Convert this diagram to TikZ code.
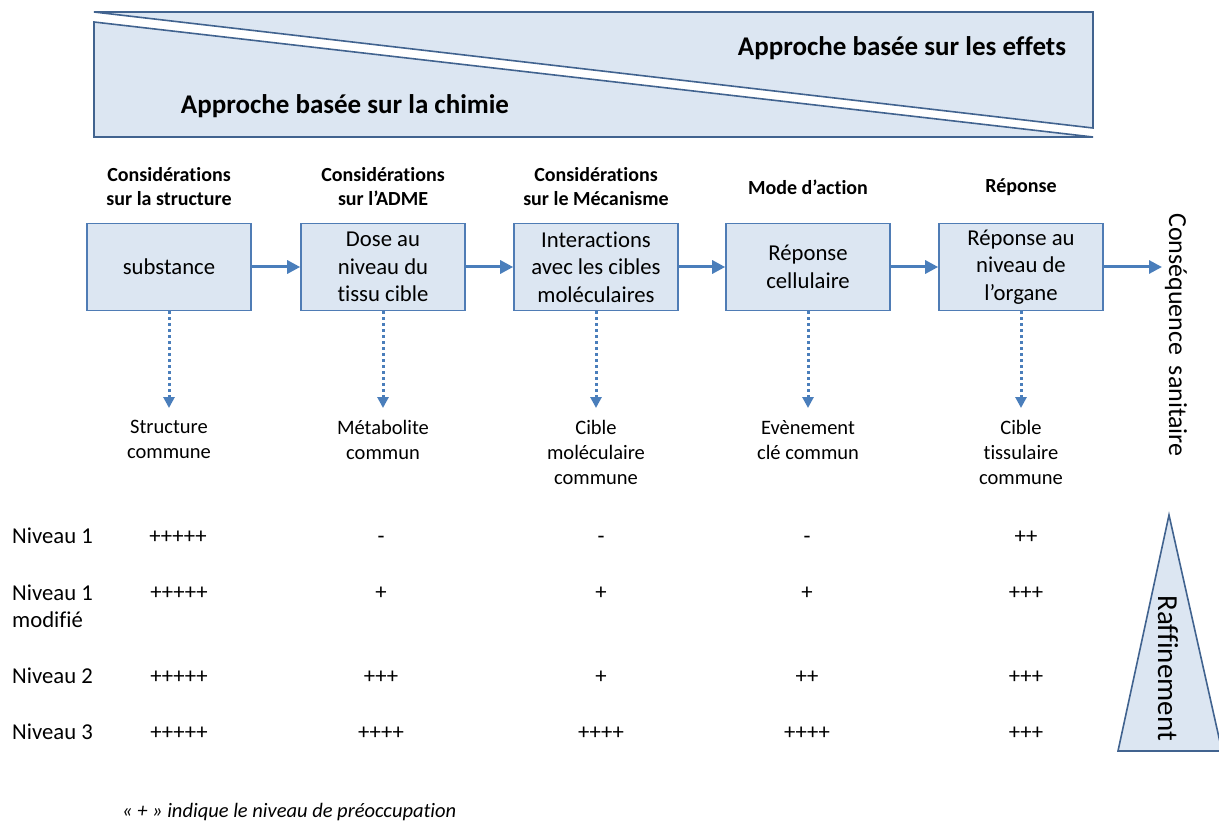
\documentclass[tikz,border=0pt]{standalone}
\usepackage{fontspec}
\setmainfont{Carlito}[Ligatures={NoCommon,NoRare}]
\usetikzlibrary{arrows.meta}
\definecolor{panelfill}{HTML}{DCE6F2}
\definecolor{paneledge}{HTML}{41638F}
\definecolor{boxedge}{HTML}{4F7CB5}
\definecolor{flowblue}{HTML}{4A7EBB}
\begin{document}
\begin{tikzpicture}[x=1pt,y=-1pt,
  panel/.style={draw=paneledge, fill=panelfill, line width=1.6pt, line join=miter},
  stepbox/.style={draw=boxedge, fill=panelfill, line width=1.6pt,
    minimum width=164pt, minimum height=87pt, align=center, inner sep=0pt,
    font=\fontsize{22.7}{27.5}\selectfont},
  flow/.style={draw=flowblue, line width=3pt, -{Triangle[length=13pt,width=13pt]}},
  dotflow/.style={draw=flowblue, line width=3pt, dash pattern=on 3pt off 3pt,
    -{Triangle[length=11pt,width=11pt]}},
  head/.style={align=center, inner sep=0pt, font=\bfseries\fontsize{20}{24}\selectfont},
  title/.style={anchor=base, inner sep=0pt, font=\bfseries\fontsize{27}{32}\selectfont},
  target/.style={align=center, inner sep=0pt, anchor=north, font=\fontsize{20.5}{25}\selectfont},
  cell/.style={anchor=base, inner sep=0pt, font=\fontsize{22.7}{28}\selectfont},
  rowlab/.style={inner sep=0pt, align=left, font=\fontsize{22.7}{27}\selectfont},
]
\useasboundingbox (0,0) rectangle (1219,821);

% banner: two opposing triangles
\draw[panel] (94,12) -- (1093,12) -- (1093,128) -- cycle;
\draw[panel] (94,22) -- (94,137) -- (1093,137) -- cycle;
\node[title] (effets) at (902,56) {Approche basée sur les effets};
\node[title] (chimie) at (345,114) {Approche basée sur la chimie};

% column headings
\node[head] (h1) at (169,187) {Considérations\\sur la structure};
\node[head] (h2) at (383,187) {Considérations\\sur l’ADME};
\node[head] (h3) at (596,187) {Considérations\\sur le Mécanisme};
\node[head] (h4) at (808,187) {Mode d’action};
\node[head] (h5) at (1021,187) {Réponse};

% pathway steps
\node[stepbox] (s1) at (169,267) {substance};
\node[stepbox] (s2) at (383,267) {Dose au\\niveau du\\tissu cible};
\node[stepbox] (s3) at (596,267) {Interactions\\avec les cibles\\moléculaires};
\node[stepbox] (s4) at (808,267) {Réponse\\cellulaire};
\node[stepbox] (s5) at (1021,267) {Réponse au\\niveau de\\l’organe};

\node[rotate=-90, inner sep=0pt, font=\fontsize{26}{30}\selectfont] (cons) at (1176,335)
  {Conséquence\hspace{0.4em}sanitaire};
\coordinate (consEnd) at (1162,267);

\draw[flow] (s1) -- (s2);
\draw[flow] (s2) -- (s3);
\draw[flow] (s3) -- (s4);
\draw[flow] (s4) -- (s5);
\draw[flow] (s5) -- (consEnd);

% common elements
\node[target] (t1) at (169,420) {Structure\\commune};
\node[target] (t2) at (383,420) {Métabolite\\commun};
\node[target] (t3) at (596,420) {Cible\\moléculaire\\commune};
\node[target] (t4) at (808,420) {Evènement\\clé commun};
\node[target] (t5) at (1021,420) {Cible\\tissulaire\\commune};

\draw[dotflow, shorten >=12pt] (s1.south) -- (t1.north);
\draw[dotflow, shorten >=12pt] (s2.south) -- (t2.north);
\draw[dotflow, shorten >=12pt] (s3.south) -- (t3.north);
\draw[dotflow, shorten >=12pt] (s4.south) -- (t4.north);
\draw[dotflow, shorten >=12pt] (s5.south) -- (t5.north);

% levels of concern
\node[rowlab, anchor=base west] (r1) at (12,543) {Niveau 1};
\node[rowlab, anchor=west] (r2) at (12,606) {Niveau 1\\modifié};
\node[rowlab, anchor=base west] (r3) at (12,683) {Niveau 2};
\node[rowlab, anchor=base west] (r4) at (12,739) {Niveau 3};

\node[cell] (c11) at (178,543) {+++++};
\node[cell] (c12) at (381,543) {-};
\node[cell] (c13) at (601,543) {-};
\node[cell] (c14) at (807,543) {-};
\node[cell] (c15) at (1026,543) {++};

\node[cell] (c21) at (179,599) {+++++};
\node[cell] (c22) at (381,599) {+};
\node[cell] (c23) at (601,599) {+};
\node[cell] (c24) at (807,599) {+};
\node[cell] (c25) at (1026,599) {+++};

\node[cell] (c31) at (179,683) {+++++};
\node[cell] (c32) at (381,683) {+++};
\node[cell] (c33) at (601,683) {+};
\node[cell] (c34) at (807,683) {++};
\node[cell] (c35) at (1026,683) {+++};

\node[cell] (c41) at (179,739) {+++++};
\node[cell] (c42) at (381,739) {++++};
\node[cell] (c43) at (601,739) {++++};
\node[cell] (c44) at (807,739) {++++};
\node[cell] (c45) at (1026,739) {+++};

% refinement wedge
\draw[panel] (1169,515) -- (1118,751) -- (1222,751) -- cycle;
\node[rotate=-90, inner sep=0pt, font=\fontsize{29}{34}\selectfont] (raff) at (1168,668) {Raffinement};

\node[anchor=base west, inner sep=0pt, font=\itshape\fontsize{20.5}{25}\selectfont] (note) at (122,817)
  {« + » indique le niveau de préoccupation};
\end{tikzpicture}
\end{document}
